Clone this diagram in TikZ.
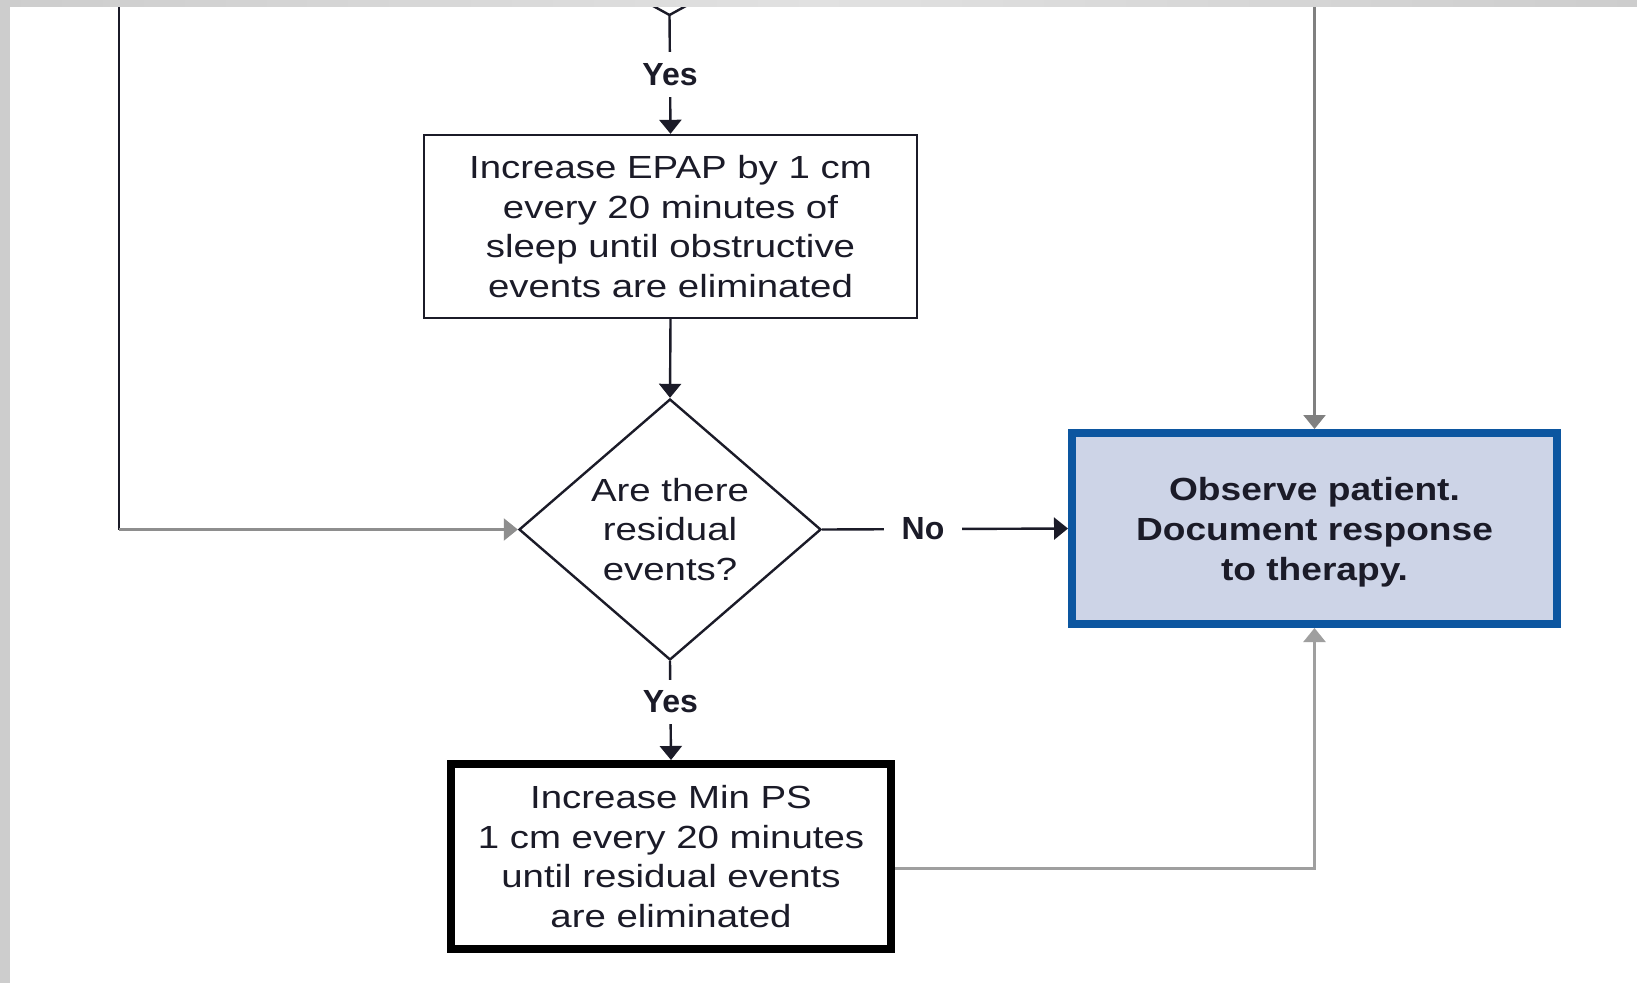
\documentclass[tikz,border=0pt]{standalone}
\usepackage{fontspec}
\setmainfont{Liberation Sans}
\newfontfamily\boxfont[FakeStretch=1.2]{Liberation Sans}
\newfontfamily\endfont[FakeStretch=1.16]{Liberation Sans Bold}
\usetikzlibrary{shapes.geometric,arrows.meta}

\definecolor{ink}{HTML}{1B1B28}
\definecolor{frameblue}{HTML}{0C56A0}
\definecolor{paleblue}{HTML}{CDD4E7}
\definecolor{linegray}{HTML}{8E8E8E}
\definecolor{edgegray}{HTML}{CDCDCD}

\begin{document}
\begin{tikzpicture}[x=1pt,y=-1pt,
  boxtext/.style={font=\boxfont\fontsize{32}{39.5}\selectfont, align=center, text=ink},
  thinbox/.style={boxtext, draw=ink, line width=2.4pt, inner sep=0pt},
  heavybox/.style={boxtext, draw=black, line width=8pt, inner sep=0pt},
  endbox/.style={boxtext, font=\endfont\fontsize{32}{40}\selectfont,
    draw=frameblue, fill=paleblue, line width=8pt, inner sep=0pt},
  decision/.style={boxtext, diamond, draw=ink, line width=2.4pt, inner sep=0pt, aspect=1.157},
  lbl/.style={font=\bfseries\fontsize{32}{36}\selectfont, text=ink, fill=white,
    inner xsep=4pt, inner ysep=11pt},
  conn/.style={line width=2.4pt, draw=ink, -{Triangle[width=22pt,length=14pt]}},
  plain/.style={line width=2.4pt, draw=ink},
]
% canvas
\fill[white] (0,0) rectangle (1637,983);
\useasboundingbox (0,0) rectangle (1637,983);

% boxes
\node[thinbox, minimum width=493pt, minimum height=183pt] (b1) at (670.5,226.5)
  {Increase EPAP by 1 cm\\every 20 minutes of\\sleep until obstructive\\events are eliminated};
\node[decision, minimum width=302pt, minimum height=261pt] (dec) at (670,529.5)
  {Are there\\residual\\events?};
\node[heavybox, minimum width=440pt, minimum height=185pt] (b3) at (671,856.5)
  {Increase Min PS\\1 cm every 20 minutes\\until residual events\\are eliminated};
\node[endbox, minimum width=485pt, minimum height=191pt] (b2) at (1314.5,528.5)
  {\rule{0pt}{31pt}Observe patient.\\Document response\\to therapy.};

% lower tip of the preceding decision
\coordinate (d0) at (669.5,15);
\draw[plain] (d0) -- ++(-20,-11);
\draw[plain] (d0) -- ++(20,-11);

% incoming branches from above
\coordinate (topl) at (119,0);
\coordinate (topr) at (1314.5,0);
\coordinate (cornl) at (topl |- dec.west);

% connectors
\draw[conn] (d0) -- node[lbl] {Yes} (b1.north);
\draw[conn] (b1.south) -- (dec.north);
\draw[conn] (dec.south) -- node[lbl, pos=0.41] {Yes} (b3.north);
\draw[conn] (dec.east) -- node[lbl, pos=0.41, inner xsep=18pt] {No} (b2.west);
\draw[plain] (topl) -- (cornl);
\draw[conn, draw=linegray] (cornl) -- (dec.west);
\draw[conn, draw=gray] (topr) -- (b2.north);
\draw[conn, draw=linegray!85] ([yshift=-12pt]b3.east) -| (b2.south);

% grey page edges
\shade[left color=edgegray, right color=edgegray, middle color=edgegray!60] (0,0) rectangle (1637,6);
\fill[edgegray] (0,0) rectangle (10,983);
\end{tikzpicture}
\end{document}
